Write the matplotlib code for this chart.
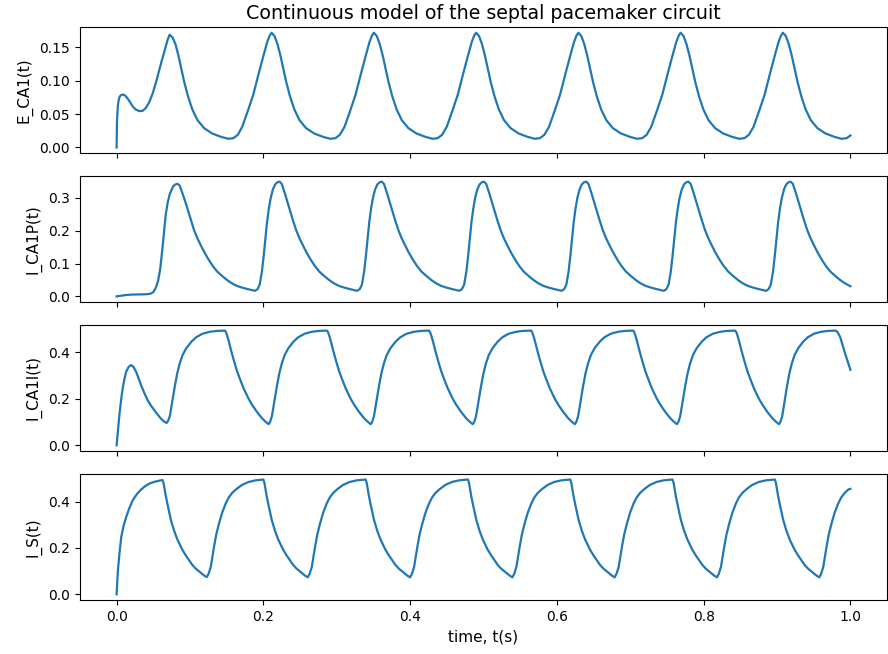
import matplotlib
matplotlib.use("Agg")
import matplotlib.pyplot as plt

# ---------------- E_CA1(t) ----------------
E_CA1_T = (
    [0.0, 0.0005, 0.001, 0.0018, 0.0028, 0.004, 0.006, 0.0086, 0.012, 0.0153, 0.0185, 0.022,
     0.026, 0.031, 0.0355, 0.040, 0.0445, 0.049, 0.0535, 0.058, 0.0615, 0.0649, 0.0694, 0.0722]
    + [0.0762, 0.0802, 0.0842, 0.0882, 0.0922, 0.0972, 0.1032, 0.1102, 0.1192, 0.1302, 0.1422,
       0.1522, 0.1592, 0.1652, 0.1712, 0.1792, 0.1862, 0.1932, 0.1997, 0.2052, 0.2087, 0.2112]
    + [0.2152, 0.2192, 0.2232, 0.2272, 0.2312, 0.2362, 0.2422, 0.2492, 0.2582, 0.2692, 0.2812,
       0.2912, 0.2982, 0.3042, 0.3106, 0.3186, 0.3256, 0.3326, 0.3391, 0.3446, 0.3481, 0.3506]
    + [0.3546, 0.3586, 0.3626, 0.3666, 0.3706, 0.3756, 0.3816, 0.3886, 0.3976, 0.4086, 0.4206,
       0.4306, 0.4376, 0.4436, 0.4499, 0.4579, 0.4649, 0.4719, 0.4784, 0.4839, 0.4874, 0.4899]
    + [0.4939, 0.4979, 0.5019, 0.5059, 0.5099, 0.5149, 0.5209, 0.5279, 0.5369, 0.5479, 0.5599,
       0.5699, 0.5769, 0.5829, 0.5893, 0.5973, 0.6043, 0.6113, 0.6178, 0.6233, 0.6268, 0.6293]
    + [0.6333, 0.6373, 0.6413, 0.6453, 0.6493, 0.6543, 0.6603, 0.6673, 0.6763, 0.6873, 0.6993,
       0.7093, 0.7163, 0.7223, 0.7286, 0.7366, 0.7436, 0.7506, 0.7571, 0.7626, 0.7661, 0.7686]
    + [0.7726, 0.7766, 0.7806, 0.7846, 0.7886, 0.7936, 0.7996, 0.8066, 0.8156, 0.8266, 0.8386,
       0.8486, 0.8556, 0.8616, 0.8680, 0.8760, 0.8830, 0.8900, 0.8965, 0.9020, 0.9055, 0.9080]
    + [0.9120, 0.9160, 0.9200, 0.9240, 0.9280, 0.9330, 0.9390, 0.9460, 0.9550, 0.9660, 0.9780,
       0.9880, 0.9950, 1.0]
)
E_CA1_START = [0.0, 0.038, 0.050, 0.063, 0.071, 0.076, 0.0785, 0.0795, 0.0775, 0.073, 0.0675, 0.0615,
               0.057, 0.0545, 0.055, 0.0595, 0.068, 0.0805, 0.097, 0.1155, 0.130, 0.143, 0.161, 0.169]
E_CA1_FIRST = [0.165, 0.155, 0.138, 0.118, 0.098, 0.077, 0.057, 0.041, 0.029, 0.021, 0.016,
               0.013, 0.014, 0.019, 0.031, 0.056, 0.079, 0.109, 0.136, 0.158, 0.168, 0.172]
E_CA1_CYCLE = [0.167, 0.155, 0.138, 0.118, 0.098, 0.077, 0.057, 0.041, 0.029, 0.021, 0.016,
               0.013, 0.014, 0.019, 0.031, 0.056, 0.079, 0.109, 0.136, 0.158, 0.168, 0.172]
E_CA1_TAIL = [0.167, 0.155, 0.138, 0.118, 0.098, 0.077, 0.057, 0.041, 0.029, 0.021, 0.016,
              0.013, 0.014, 0.018]
E_CA1 = (E_CA1_START + E_CA1_FIRST + E_CA1_CYCLE + E_CA1_CYCLE + E_CA1_CYCLE
         + E_CA1_CYCLE + E_CA1_CYCLE + E_CA1_TAIL)

# ---------------- I_CA1P(t) ----------------
I_CA1P_T = (
    [0.0, 0.006, 0.012, 0.020, 0.030, 0.040, 0.046, 0.050, 0.0535, 0.0565, 0.0595, 0.0626,
     0.065, 0.067, 0.0698, 0.0726, 0.077, 0.0800, 0.0829]
    + [0.0859, 0.0899, 0.0934, 0.0964, 0.1009, 0.1054, 0.1099, 0.1144, 0.1199, 0.1259, 0.1309,
       0.1369, 0.1439, 0.1504, 0.1569, 0.1639, 0.1709, 0.1774, 0.1829, 0.1885,
       0.1920, 0.1950, 0.1980, 0.2005, 0.2030, 0.2050, 0.2075, 0.2100, 0.2130, 0.2160, 0.2190, 0.2220]
    + [0.2250, 0.2290, 0.2325, 0.2355, 0.2400, 0.2445, 0.2490, 0.2535, 0.2590, 0.2650, 0.2700,
       0.2760, 0.2830, 0.2895, 0.2960, 0.3030, 0.3100, 0.3165, 0.3220, 0.3278,
       0.3313, 0.3343, 0.3373, 0.3398, 0.3423, 0.3443, 0.3468, 0.3493, 0.3523, 0.3553, 0.3583, 0.3613]
    + [0.3643, 0.3683, 0.3718, 0.3748, 0.3793, 0.3838, 0.3883, 0.3928, 0.3983, 0.4043, 0.4093,
       0.4153, 0.4223, 0.4288, 0.4353, 0.4423, 0.4493, 0.4558, 0.4613, 0.4671,
       0.4706, 0.4736, 0.4766, 0.4791, 0.4816, 0.4836, 0.4861, 0.4886, 0.4916, 0.4946, 0.4976, 0.5006]
    + [0.5036, 0.5076, 0.5111, 0.5141, 0.5186, 0.5231, 0.5276, 0.5321, 0.5376, 0.5436, 0.5486,
       0.5546, 0.5616, 0.5681, 0.5746, 0.5816, 0.5886, 0.5951, 0.6006, 0.6064,
       0.6099, 0.6129, 0.6159, 0.6184, 0.6209, 0.6229, 0.6254, 0.6279, 0.6309, 0.6339, 0.6369, 0.6399]
    + [0.6429, 0.6469, 0.6504, 0.6534, 0.6579, 0.6624, 0.6669, 0.6714, 0.6769, 0.6829, 0.6879,
       0.6939, 0.7009, 0.7074, 0.7139, 0.7209, 0.7279, 0.7344, 0.7399, 0.7457,
       0.7492, 0.7522, 0.7552, 0.7577, 0.7602, 0.7622, 0.7647, 0.7672, 0.7702, 0.7732, 0.7762, 0.7792]
    + [0.7822, 0.7862, 0.7897, 0.7927, 0.7972, 0.8017, 0.8062, 0.8107, 0.8162, 0.8222, 0.8272,
       0.8332, 0.8402, 0.8467, 0.8532, 0.8602, 0.8672, 0.8737, 0.8792, 0.8850,
       0.8885, 0.8915, 0.8945, 0.8970, 0.8995, 0.9015, 0.9040, 0.9065, 0.9095, 0.9125, 0.9155, 0.9185]
    + [0.9215, 0.9255, 0.9290, 0.9320, 0.9365, 0.9410, 0.9455, 0.9500, 0.9555, 0.9615, 0.9665,
       0.9725, 0.9795, 0.9860, 0.9925, 1.0]
)
I_CA1P_START = [0.0, 0.002, 0.004, 0.0055, 0.006, 0.0065, 0.008, 0.013, 0.027, 0.047, 0.085, 0.150,
                0.205, 0.250, 0.288, 0.313, 0.335, 0.341, 0.343]
I_CA1P_FIRST = [0.338, 0.313, 0.290, 0.268, 0.234, 0.203, 0.178, 0.157, 0.133, 0.110, 0.093,
                0.076, 0.062, 0.050, 0.040, 0.032, 0.027, 0.023, 0.020, 0.017,
                0.022, 0.036, 0.075, 0.125, 0.180, 0.226, 0.268, 0.300, 0.326, 0.341, 0.3475, 0.3495]
I_CA1P_CYCLE = [0.343, 0.316, 0.290, 0.268, 0.234, 0.203, 0.178, 0.157, 0.133, 0.110, 0.093,
                0.076, 0.062, 0.050, 0.040, 0.032, 0.027, 0.023, 0.020, 0.017,
                0.022, 0.036, 0.075, 0.125, 0.180, 0.226, 0.268, 0.300, 0.326, 0.341, 0.3475, 0.3495]
I_CA1P_TAIL = [0.343, 0.316, 0.290, 0.268, 0.234, 0.203, 0.178, 0.157, 0.133, 0.110, 0.093,
               0.076, 0.062, 0.050, 0.040, 0.031]
I_CA1P = (I_CA1P_START + I_CA1P_FIRST + I_CA1P_CYCLE + I_CA1P_CYCLE + I_CA1P_CYCLE
          + I_CA1P_CYCLE + I_CA1P_CYCLE + I_CA1P_TAIL)

# ---------------- I_CA1I(t) ----------------
I_CA1I_T = (
    [0.0, 0.002, 0.004, 0.0063, 0.0086, 0.011, 0.013, 0.0165, 0.0198, 0.023, 0.0266, 0.030,
     0.0333, 0.0378, 0.0423, 0.047, 0.0514, 0.056, 0.0604, 0.064, 0.068]
    + [0.0700, 0.0725, 0.0760, 0.0792, 0.0825, 0.0860, 0.0900, 0.0950, 0.1020, 0.1085, 0.1170,
       0.1265, 0.1360, 0.1475, 0.1490, 0.1510, 0.1529, 0.1560, 0.1597, 0.1640, 0.1687, 0.1732,
       0.1799, 0.1845, 0.1912, 0.1980, 0.2025, 0.2071]
    + [0.2091, 0.2116, 0.2151, 0.2183, 0.2216, 0.2251, 0.2291, 0.2341, 0.2411, 0.2476, 0.2561,
       0.2656, 0.2751, 0.2866, 0.2881, 0.2901, 0.2920, 0.2951, 0.2988, 0.3031, 0.3078, 0.3123,
       0.3190, 0.3236, 0.3303, 0.3371, 0.3416, 0.3462]
    + [0.3482, 0.3507, 0.3542, 0.3574, 0.3607, 0.3642, 0.3682, 0.3732, 0.3802, 0.3867, 0.3952,
       0.4047, 0.4142, 0.4257, 0.4272, 0.4292, 0.4311, 0.4342, 0.4379, 0.4422, 0.4469, 0.4514,
       0.4581, 0.4627, 0.4694, 0.4762, 0.4807, 0.4853]
    + [0.4873, 0.4898, 0.4933, 0.4965, 0.4998, 0.5033, 0.5073, 0.5123, 0.5193, 0.5258, 0.5343,
       0.5438, 0.5533, 0.5648, 0.5663, 0.5683, 0.5702, 0.5733, 0.5770, 0.5813, 0.5860, 0.5905,
       0.5972, 0.6018, 0.6085, 0.6153, 0.6198, 0.6244]
    + [0.6264, 0.6289, 0.6324, 0.6356, 0.6389, 0.6424, 0.6464, 0.6514, 0.6584, 0.6649, 0.6734,
       0.6829, 0.6924, 0.7039, 0.7054, 0.7074, 0.7093, 0.7124, 0.7161, 0.7204, 0.7251, 0.7296,
       0.7363, 0.7409, 0.7476, 0.7544, 0.7589, 0.7635]
    + [0.7655, 0.7680, 0.7715, 0.7747, 0.7780, 0.7815, 0.7855, 0.7905, 0.7975, 0.8040, 0.8125,
       0.8220, 0.8315, 0.8430, 0.8445, 0.8465, 0.8484, 0.8515, 0.8552, 0.8595, 0.8642, 0.8687,
       0.8754, 0.8800, 0.8867, 0.8935, 0.8980, 0.9026]
    + [0.9045, 0.9070, 0.9104, 0.9135, 0.9167, 0.9201, 0.9240, 0.9289, 0.9357, 0.9420, 0.9503,
       0.9596, 0.9688, 0.9800, 0.9825, 0.9860, 0.9928, 1.0]
)
I_CA1I_START = [0.0, 0.070, 0.137, 0.200, 0.252, 0.290, 0.316, 0.338, 0.345, 0.337, 0.316, 0.288,
                0.259, 0.225, 0.194, 0.170, 0.151, 0.132, 0.115, 0.104, 0.096]
I_CA1I_FIRST = [0.104, 0.125, 0.192, 0.252, 0.308, 0.352, 0.389, 0.418, 0.446, 0.465, 0.480,
                0.488, 0.492, 0.4935, 0.487, 0.468, 0.447, 0.408, 0.366, 0.320, 0.280, 0.244,
                0.200, 0.175, 0.144, 0.117, 0.103, 0.091]
I_CA1I_CYCLE = [0.100, 0.125, 0.192, 0.252, 0.308, 0.352, 0.389, 0.418, 0.446, 0.465, 0.480,
                0.488, 0.492, 0.4935, 0.487, 0.468, 0.447, 0.408, 0.366, 0.320, 0.280, 0.244,
                0.200, 0.175, 0.144, 0.117, 0.103, 0.091]
I_CA1I_TAIL = [0.100, 0.125, 0.192, 0.252, 0.308, 0.352, 0.389, 0.418, 0.446, 0.465, 0.480,
               0.488, 0.492, 0.4935, 0.487, 0.466, 0.394, 0.325]
I_CA1I = (I_CA1I_START + I_CA1I_FIRST + I_CA1I_CYCLE + I_CA1I_CYCLE + I_CA1I_CYCLE
          + I_CA1I_CYCLE + I_CA1I_CYCLE + I_CA1I_TAIL)

# ---------------- I_S(t) ----------------
I_S_T = (
    [0.0, 0.0018, 0.004, 0.0063, 0.0095, 0.0131, 0.0175, 0.022, 0.0275, 0.0333, 0.039, 0.0446,
     0.052, 0.0604, 0.0626]
    + [0.0641, 0.0670, 0.0694, 0.0739, 0.0784, 0.0829, 0.0896, 0.0942, 0.1031, 0.1077, 0.1146,
       0.1196, 0.1228, 0.1253, 0.1283, 0.1327, 0.1358, 0.1395, 0.1438, 0.1485, 0.1528, 0.1573,
       0.1628, 0.1708, 0.1800, 0.1898, 0.2000]
    + [0.2015, 0.2044, 0.2068, 0.2113, 0.2158, 0.2203, 0.2270, 0.2316, 0.2405, 0.2451, 0.2520,
       0.2570, 0.2605, 0.2630, 0.2660, 0.2704, 0.2735, 0.2772, 0.2815, 0.2862, 0.2905, 0.2950,
       0.3005, 0.3085, 0.3177, 0.3275, 0.3394]
    + [0.3409, 0.3438, 0.3462, 0.3507, 0.3552, 0.3597, 0.3664, 0.3710, 0.3799, 0.3845, 0.3914,
       0.3964, 0.3999, 0.4024, 0.4054, 0.4098, 0.4129, 0.4166, 0.4209, 0.4256, 0.4299, 0.4344,
       0.4399, 0.4479, 0.4571, 0.4669, 0.4788]
    + [0.4803, 0.4832, 0.4856, 0.4901, 0.4946, 0.4991, 0.5058, 0.5104, 0.5193, 0.5239, 0.5308,
       0.5358, 0.5393, 0.5418, 0.5448, 0.5492, 0.5523, 0.5560, 0.5603, 0.5650, 0.5693, 0.5738,
       0.5793, 0.5873, 0.5965, 0.6063, 0.6182]
    + [0.6197, 0.6226, 0.6250, 0.6295, 0.6340, 0.6385, 0.6452, 0.6498, 0.6587, 0.6633, 0.6702,
       0.6752, 0.6787, 0.6812, 0.6842, 0.6886, 0.6917, 0.6954, 0.6997, 0.7044, 0.7087, 0.7132,
       0.7187, 0.7267, 0.7359, 0.7457, 0.7576]
    + [0.7591, 0.7620, 0.7644, 0.7689, 0.7734, 0.7779, 0.7846, 0.7892, 0.7981, 0.8027, 0.8096,
       0.8146, 0.8181, 0.8206, 0.8236, 0.8280, 0.8311, 0.8348, 0.8391, 0.8438, 0.8481, 0.8526,
       0.8581, 0.8661, 0.8753, 0.8851, 0.8970]
    + [0.8985, 0.9014, 0.9038, 0.9083, 0.9128, 0.9173, 0.9240, 0.9286, 0.9375, 0.9421, 0.9490,
       0.9540, 0.9575, 0.9600, 0.9630, 0.9674, 0.9705, 0.9742, 0.9785, 0.9832, 0.9875, 0.9920,
       0.9975, 1.0]
)
I_S_START = [0.0, 0.104, 0.180, 0.247, 0.295, 0.334, 0.373, 0.406, 0.432, 0.452, 0.467, 0.478,
             0.486, 0.492, 0.493]
I_S_FIRST = [0.478, 0.425, 0.388, 0.322, 0.274, 0.236, 0.192, 0.168, 0.127, 0.111, 0.093,
             0.080, 0.074, 0.088, 0.118, 0.204, 0.258, 0.305, 0.352, 0.391, 0.418, 0.437,
             0.453, 0.472, 0.485, 0.492, 0.4955]
I_S_CYCLE = [0.480, 0.425, 0.388, 0.322, 0.274, 0.236, 0.192, 0.168, 0.127, 0.111, 0.093,
             0.080, 0.073, 0.088, 0.118, 0.204, 0.258, 0.305, 0.352, 0.391, 0.418, 0.437,
             0.453, 0.472, 0.485, 0.492, 0.4955]
I_S_TAIL = [0.480, 0.425, 0.388, 0.322, 0.274, 0.236, 0.192, 0.168, 0.127, 0.111, 0.093,
            0.080, 0.073, 0.088, 0.118, 0.204, 0.258, 0.305, 0.352, 0.391, 0.418, 0.437,
            0.453, 0.455]
I_S = (I_S_START + I_S_FIRST + I_S_CYCLE + I_S_CYCLE + I_S_CYCLE
       + I_S_CYCLE + I_S_CYCLE + I_S_TAIL)

PANELS = [
    (E_CA1_T, E_CA1, "E_CA1(t)"),
    (I_CA1P_T, I_CA1P, "I_CA1P(t)"),
    (I_CA1I_T, I_CA1I, "I_CA1I(t)"),
    (I_S_T, I_S, "I_S(t)"),
]

fig, axes = plt.subplots(4, 1, figsize=(8.88, 6.54), dpi=100, sharex=True)
fig.subplots_adjust(left=0.090, right=0.999, bottom=0.0826, top=0.9587, hspace=0.18)

for ax, (t, y, label) in zip(axes, PANELS):
    ax.plot(t, y, color="C0", lw=1.6)
    ax.set_ylabel(label, fontsize=11, labelpad=5)
    ax.tick_params(labelsize=10)

axes[0].set_title("Continuous model of the septal pacemaker circuit", fontsize=13.7)
axes[-1].set_xlabel("time, t(s)", fontsize=11)
axes[-1].set_xticks([0.0, 0.2, 0.4, 0.6, 0.8, 1.0])

fig.savefig("out.png", dpi=100)
